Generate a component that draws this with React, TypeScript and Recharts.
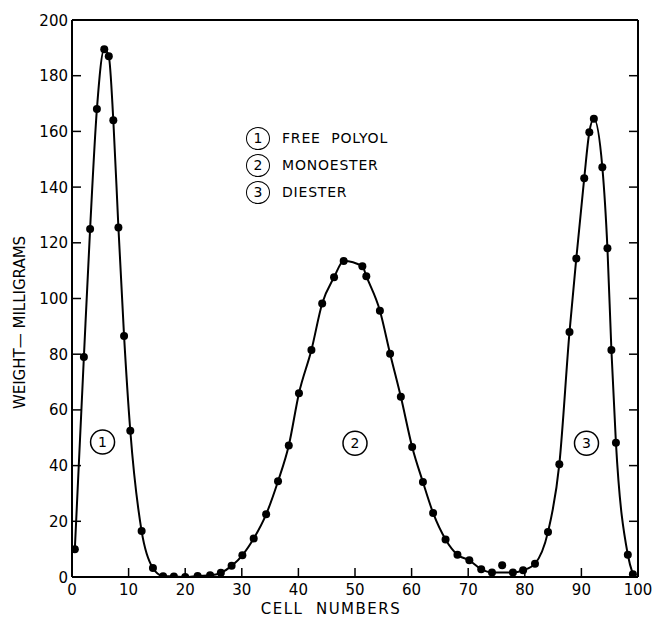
import React from "react";
import {
  ComposedChart,
  Line,
  Scatter,
  XAxis,
  YAxis,
  ReferenceDot,
  Legend,
} from "recharts";

const cellNumbers = [
  0.5, 2.1, 3.2, 4.4, 5.7, 6.5, 7.3, 8.2, 9.2, 10.3, 12.3, 14.3, 16.1, 18.0,
  20.0, 22.2, 24.4, 26.3, 28.2, 30.1, 32.1, 34.3, 36.4, 38.3, 40.1, 42.3, 44.2,
  46.3, 48.0, 51.3, 52.0, 54.4, 56.2, 58.1, 60.1, 62.0, 63.8, 66.0, 68.1, 70.2,
  72.3, 74.2, 76.0, 77.9, 79.7, 81.8, 84.1, 86.1, 87.9, 89.1, 90.5, 91.4, 92.2,
  93.7, 94.6, 95.3, 96.1, 98.2, 99.1,
];
const weights = [
  10, 79, 125, 168, 189.5, 187, 164, 125.5, 86.5, 52.5, 16.5, 3.2, 0.3, 0.2,
  0, 0.4, 0.6, 1.5, 4, 7.8, 13.8, 22.5, 34.4, 47.2, 66, 81.5, 98.2,
  107.6, 113.5, 111.6, 108, 95.6, 80.2, 64.7, 46.7, 34.1, 23, 13.5, 8, 6,
  2.8, 1.6, 4.2, 1.6, 2.4, 4.8, 16.2, 40.5, 88, 114.4, 143.2, 159.7, 164.5,
  147.1, 118, 81.5, 48.2, 8, 1,
];
// the smooth curve does not go through this one
const offCurveCells = [76.0];

const xTicks = [0, 10, 20, 30, 40, 50, 60, 70, 80, 90, 100];
const yTicks = [0, 20, 40, 60, 80, 100, 120, 140, 160, 180, 200];

const peakIds = ["1", "2", "3"];
const peakNames = ["FREE  POLYOL", "MONOESTER", "DIESTER"];
const peakCells = [5.4, 50, 90.9];
const peakWeights = [48.5, 48, 48];

const points = cellNumbers.map((cell, i) => ({ cell, weight: weights[i] }));
const curve = points.filter((p) => !offCurveCells.includes(p.cell));

const FONT = "'DejaVu Sans', sans-serif";
const TICK = 9;
const axisStyle = { stroke: "#000", strokeWidth: 2 };

const BottomTick = ({ x, y, payload }: any) => (
  <g>
    <line x1={x} x2={x} y1={y} y2={y - TICK} stroke="#000" strokeWidth={1.5} />
    <text x={x} y={y + 18} textAnchor="middle" fontSize={15} fontFamily={FONT} fill="#000">
      {payload.value}
    </text>
  </g>
);

const TopTick = ({ x, y }: any) => (
  <line x1={x} x2={x} y1={y} y2={y + TICK} stroke="#000" strokeWidth={1.5} />
);

const LeftTick = ({ x, y, payload }: any) => (
  <g>
    <line x1={x} x2={x + TICK} y1={y} y2={y} stroke="#000" strokeWidth={1.5} />
    <text x={x - 4} y={y + 5.5} textAnchor="end" fontSize={15} fontFamily={FONT} fill="#000">
      {payload.value}
    </text>
  </g>
);

const RightTick = ({ x, y }: any) => (
  <line x1={x} x2={x - TICK} y1={y} y2={y} stroke="#000" strokeWidth={1.5} />
);

const XTitle = ({ viewBox }: any) => (
  <text
    x={viewBox.x + viewBox.width / 2 - 24}
    y={viewBox.y + viewBox.height - 6}
    textAnchor="middle"
    fontSize={15}
    fontFamily={FONT}
    letterSpacing={1.5}
    style={{ whiteSpace: "pre" }}
    fill="#000"
  >
    CELL  NUMBERS
  </text>
);

const YTitle = ({ viewBox }: any) => {
  const cx = viewBox.x + 20;
  const cy = viewBox.y + viewBox.height / 2 + 24;
  return (
    <text
      x={cx}
      y={cy}
      transform={`rotate(-90, ${cx}, ${cy})`}
      textAnchor="middle"
      dominantBaseline="central"
      fontSize={15}
      fontFamily={FONT}
      fill="#000"
    >
      WEIGHT— MILLIGRAMS
    </text>
  );
};

const PeakLegend = () => (
  <div style={{ fontFamily: FONT, fontSize: 14, color: "#000" }}>
    {peakIds.map((id, i) => (
      <div key={id} style={{ display: "flex", alignItems: "center", height: 27 }}>
        <div
          style={{
            width: 24,
            height: 23,
            boxSizing: "border-box",
            border: "1.5px solid #000",
            borderRadius: "50%",
            display: "flex",
            alignItems: "center",
            justifyContent: "center",
          }}
        >
          {id}
        </div>
        <span style={{ marginLeft: 12, letterSpacing: 0.8, whiteSpace: "pre" }}>
          {peakNames[i]}
        </span>
      </div>
    ))}
  </div>
);

export default function App() {
  return (
    <div style={{ position: "absolute", left: 0, top: 0, background: "#fff", fontFamily: FONT }}>
      <ComposedChart width={655} height={620} margin={{ top: 0, right: 0, bottom: 0, left: 0 }}>
        <XAxis
          xAxisId="bottom"
          dataKey="cell"
          type="number"
          domain={[0, 100]}
          allowDataOverflow
          ticks={xTicks}
          interval={0}
          height={43}
          axisLine={axisStyle}
          tickLine={false}
          tickSize={0}
          tickMargin={0}
          tick={<BottomTick />}
          label={<XTitle />}
        />
        <XAxis
          xAxisId="top"
          orientation="top"
          type="number"
          domain={[0, 100]}
          allowDataOverflow
          ticks={xTicks.slice(1, -1)}
          interval={0}
          height={20}
          axisLine={axisStyle}
          tickLine={false}
          tickSize={0}
          tickMargin={0}
          tick={<TopTick />}
        />
        <YAxis
          yAxisId="left"
          dataKey="weight"
          type="number"
          domain={[0, 200]}
          allowDataOverflow
          ticks={yTicks}
          interval={0}
          width={72}
          axisLine={axisStyle}
          tickLine={false}
          tickSize={0}
          tickMargin={0}
          tick={<LeftTick />}
          label={<YTitle />}
        />
        <YAxis
          yAxisId="right"
          orientation="right"
          type="number"
          domain={[0, 200]}
          allowDataOverflow
          ticks={yTicks.slice(1, -1)}
          interval={0}
          width={17}
          axisLine={axisStyle}
          tickLine={false}
          tickSize={0}
          tickMargin={0}
          tick={<RightTick />}
        />
        <Legend
          verticalAlign="middle"
          align="center"
          content={<PeakLegend />}
          wrapperStyle={{ position: "absolute", left: 246, top: 124.5, width: "auto" }}
        />
        <Line
          xAxisId="bottom"
          yAxisId="left"
          data={curve}
          dataKey="weight"
          type="monotone"
          stroke="#000"
          strokeWidth={2}
          dot={false}
          legendType="none"
          isAnimationActive={false}
        />
        <Scatter
          xAxisId="bottom"
          yAxisId="left"
          data={points}
          dataKey="weight"
          fill="#000"
          legendType="none"
          shape={(p: any) => <circle cx={p.cx} cy={p.cy} r={4} fill="#000" />}
          isAnimationActive={false}
        />
        {peakIds.map((id, i) => (
          <ReferenceDot
            key={id}
            xAxisId="bottom"
            yAxisId="left"
            x={peakCells[i]}
            y={peakWeights[i]}
            r={12}
            fill="#fff"
            stroke="#000"
            strokeWidth={1.5}
            label={{ value: id, position: "center", fontSize: 14, fontFamily: FONT, fill: "#000" }}
          />
        ))}
      </ComposedChart>
    </div>
  );
}
